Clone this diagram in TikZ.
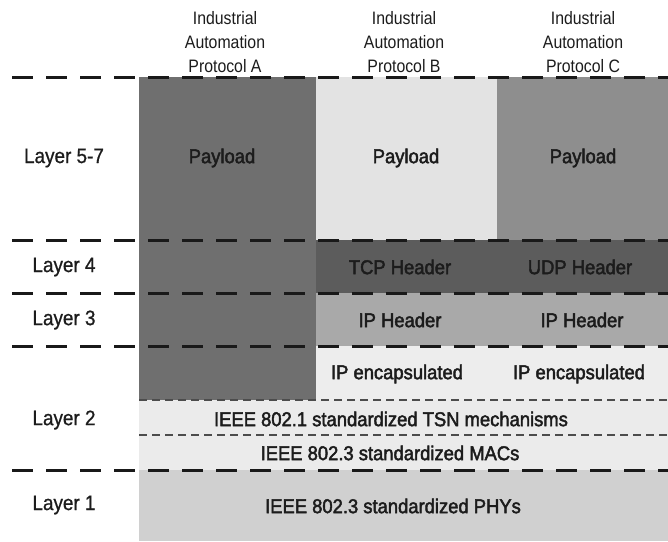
\documentclass[tikz,border=0pt]{standalone}
\usepackage{fontspec}
\setmainfont{Liberation Sans}
\newfontfamily\boxf{Liberation Sans}[FakeStretch=0.92,FakeBold=2.2]
\newfontfamily\layf{Liberation Sans}[FakeStretch=0.9,FakeBold=0.8]
\newfontfamily\hdrf{Liberation Sans}[FakeStretch=0.88]
\definecolor{colA}{HTML}{6F6F6F}
\definecolor{colPB}{HTML}{E3E3E3}
\definecolor{colPC}{HTML}{8E8E8E}
\definecolor{colHfour}{HTML}{5C5C5C}
\definecolor{colHthree}{HTML}{A9A9A9}
\definecolor{colEnc}{HTML}{EDEDED}
\definecolor{colLtwo}{HTML}{EBEBEB}
\definecolor{colPHY}{HTML}{D0D0D0}
\definecolor{txt}{HTML}{1C1C1C}
\begin{document}
\begin{tikzpicture}[x=1pt,y=-1pt,
  blk/.style={draw=none, inner sep=0pt, outer sep=0pt, anchor=north west},
  lbl/.style={font=\boxf\fontsize{20}{22}\selectfont, text=txt, inner sep=0pt},
  lay/.style={font=\layf\fontsize{21}{23}\selectfont, text=txt, inner sep=0pt},
  hdr/.style={font=\hdrf\fontsize{18}{24}\selectfont, align=center, text=txt, inner sep=0pt},
  septhick/.style={line width=3pt, dash pattern=on 21pt off 13pt, black!90},
  septhin/.style={line width=1.4pt, dash pattern=on 8pt off 5pt, black!70}]
\useasboundingbox[fill=white] (0,0) rectangle (668,541);

% blocks
\node[blk, fill=colA, minimum width=177pt, minimum height=323pt] (blockA) at (139,77) {};
\node[blk, fill=colPB, minimum width=181pt, minimum height=163pt] (payB) at (316,77) {};
\node[blk, fill=colPC, minimum width=171pt, minimum height=163pt] (payC) at (497,77) {};
\node[blk, fill=colHfour, minimum width=352pt, minimum height=53pt] (hfour) at (316,240) {};
\node[blk, fill=colHthree, minimum width=352pt, minimum height=53pt] (hthree) at (316,293) {};
\node[blk, fill=colEnc, minimum width=352pt, minimum height=54pt] (enc) at (316,346) {};
\node[blk, fill=colLtwo, minimum width=529pt, minimum height=35pt] (tsn) at (139,400) {};
\node[blk, fill=colLtwo, minimum width=529pt, minimum height=35pt] (mac) at (139,435) {};
\node[blk, fill=colPHY, minimum width=529pt, minimum height=71pt] (phy) at (139,470) {};

% separators
\coordinate (l77) at (12,77);   \coordinate (r77) at (668,77);
\coordinate (l240) at (12,240); \coordinate (r240) at (668,240);
\coordinate (l293) at (12,293); \coordinate (r293) at (668,293);
\coordinate (l346) at (12,346); \coordinate (r346) at (668,346);
\coordinate (l470) at (12,470); \coordinate (r470) at (668,470);
\coordinate (l400) at (139,400); \coordinate (r400) at (668,400);
\coordinate (l435) at (139,435); \coordinate (r435) at (668,435);
\draw[septhin] (l400) -- (r400);
\draw[septhin] (l435) -- (r435);
\draw[septhick] (l77) -- (r77);
\draw[septhick] (l240) -- (r240);
\draw[septhick] (l293) -- (r293);
\draw[septhick] (l346) -- (r346);
\draw[septhick] (l470) -- (r470);

% headers
\node[hdr] (hA) at (225,42) {Industrial\\Automation\\Protocol A};
\node[hdr] (hB) at (404,42) {Industrial\\Automation\\Protocol B};
\node[hdr] (hC) at (583,42) {Industrial\\Automation\\Protocol C};

% layer labels
\node[lay] (L57) at (64,158) {Layer 5-7};
\node[lay] (L4) at (64,267) {Layer 4};
\node[lay] (L3) at (64,320) {Layer 3};
\node[lay] (L2) at (64,420) {Layer 2};
\node[lay] (L1) at (64,505) {Layer 1};

% block texts
\node[lbl] (tPA) at (222,158) {Payload};
\node[lbl] (tPB) at (406,158) {Payload};
\node[lbl] (tPC) at (583,158) {Payload};
\node[lbl] (tTCP) at (400,267) {TCP Header};
\node[lbl] (tUDP) at (580,267) {UDP Header};
\node[lbl] (tIPa) at (400,320) {IP Header};
\node[lbl] (tIPb) at (582,320) {IP Header};
\node[lbl] (tEa) at (397,374) {IP encapsulated};
\node[lbl] (tEb) at (579,374) {IP encapsulated};
\node[lbl] (tTSN) at (391,419) {IEEE 802.1 standardized TSN mechanisms};
\node[lbl] (tMAC) at (390,453) {IEEE 802.3 standardized MACs};
\node[lbl] (tPHY) at (393,506) {IEEE 802.3 standardized PHYs};
\end{tikzpicture}
\end{document}
